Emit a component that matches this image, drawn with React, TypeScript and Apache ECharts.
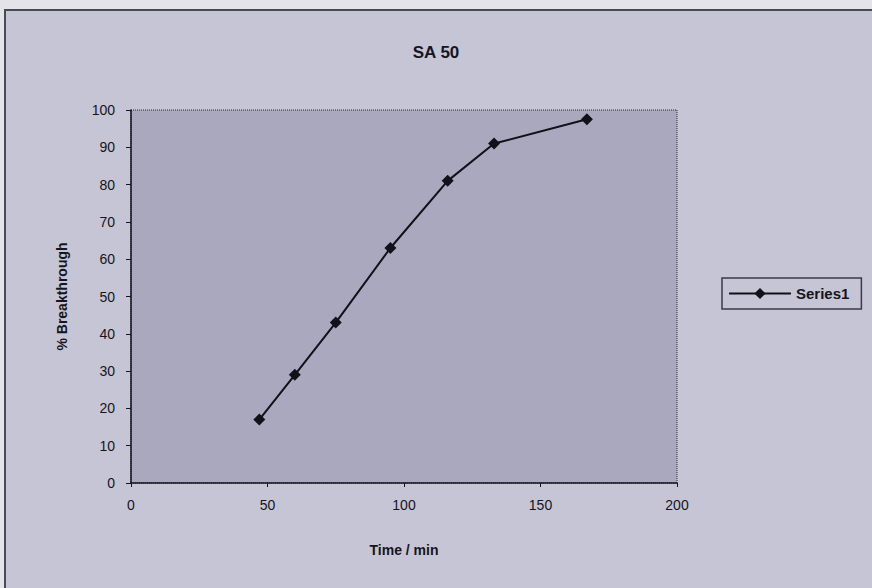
import React, { useEffect, useRef } from "react";
import * as echarts from "echarts";

const timeMin = [47, 60, 75, 95, 116, 133, 167];
const breakthrough = [17, 29, 43, 63, 81, 91, 97.5];
const seriesName = "Series1";
const titleText = "SA 50";
const xName = "Time / min";
const yName = "% Breakthrough";

export default function App() {
  const ref = useRef<HTMLDivElement>(null);
  useEffect(() => {
    document.body.style.margin = "0";
    const chart = echarts.init(ref.current!, null, { renderer: "svg" });
    const font = "Liberation Sans, Arial, sans-serif";
    chart.setOption({
      animation: false,
      backgroundColor: "#e4e3ea",
      graphic: [
        {
          type: "rect",
          z: -10,
          shape: { x: 5, y: 10, width: 880, height: 600 },
          style: { fill: "#c6c5d5", stroke: "#4a4a55", lineWidth: 2 },
        },
      ],
      title: {
        text: titleText,
        left: "center",
        top: 39,
        textStyle: { fontFamily: font, fontSize: 17, fontWeight: "bold", color: "#151520" },
      },
      legend: {
        show: true,
        left: 722,
        top: 278,
        orient: "vertical",
        borderColor: "#3a3a48",
        borderWidth: 1.5,
        padding: [8, 12, 8, 6],
        itemWidth: 62,
        itemHeight: 14,
        itemGap: 4,
        textStyle: { fontFamily: font, fontSize: 15, fontWeight: "bold", color: "#151520", width: 64 },
        data: [seriesName],
      },
      grid: {
        left: 131,
        top: 110,
        right: 195,
        bottom: 105,
        show: true,
        backgroundColor: "#a9a8bf",
        borderColor: "#2a2a35",
        borderWidth: 1,
        borderType: "dotted",
      },
      xAxis: {
        type: "value",
        min: 0,
        max: 200,
        interval: 50,
        name: xName,
        nameLocation: "middle",
        nameGap: 60,
        nameTextStyle: { fontFamily: font, fontSize: 14, fontWeight: "bold", color: "#151520" },
        axisLine: { show: true, lineStyle: { color: "#151520", width: 1.5 } },
        axisTick: { show: true, length: 4, inside: false, lineStyle: { color: "#151520" } },
        axisLabel: { fontFamily: font, fontSize: 14, color: "#151520", margin: 15 },
        splitLine: { show: false },
      },
      yAxis: {
        type: "value",
        min: 0,
        max: 100,
        interval: 10,
        name: yName,
        nameLocation: "middle",
        nameGap: 62,
        nameRotate: 90,
        nameTextStyle: { fontFamily: font, fontSize: 14, fontWeight: "bold", color: "#151520" },
        axisLine: { show: true, lineStyle: { color: "#151520", width: 1.5 } },
        axisTick: { show: true, length: 5, lineStyle: { color: "#151520" } },
        axisLabel: { fontFamily: font, fontSize: 14, color: "#151520", margin: 16 },
        splitLine: { show: false },
      },
      series: [
        {
          name: seriesName,
          type: "line",
          data: timeMin.map((t, i) => [t, breakthrough[i]]),
          symbol: "diamond",
          symbolSize: 12,
          lineStyle: { color: "#111118", width: 2 },
          itemStyle: { color: "#111118" },
        },
      ],
    });
    return () => chart.dispose();
  }, []);
  return <div ref={ref} style={{ width: 872, height: 588 }} />;
}
